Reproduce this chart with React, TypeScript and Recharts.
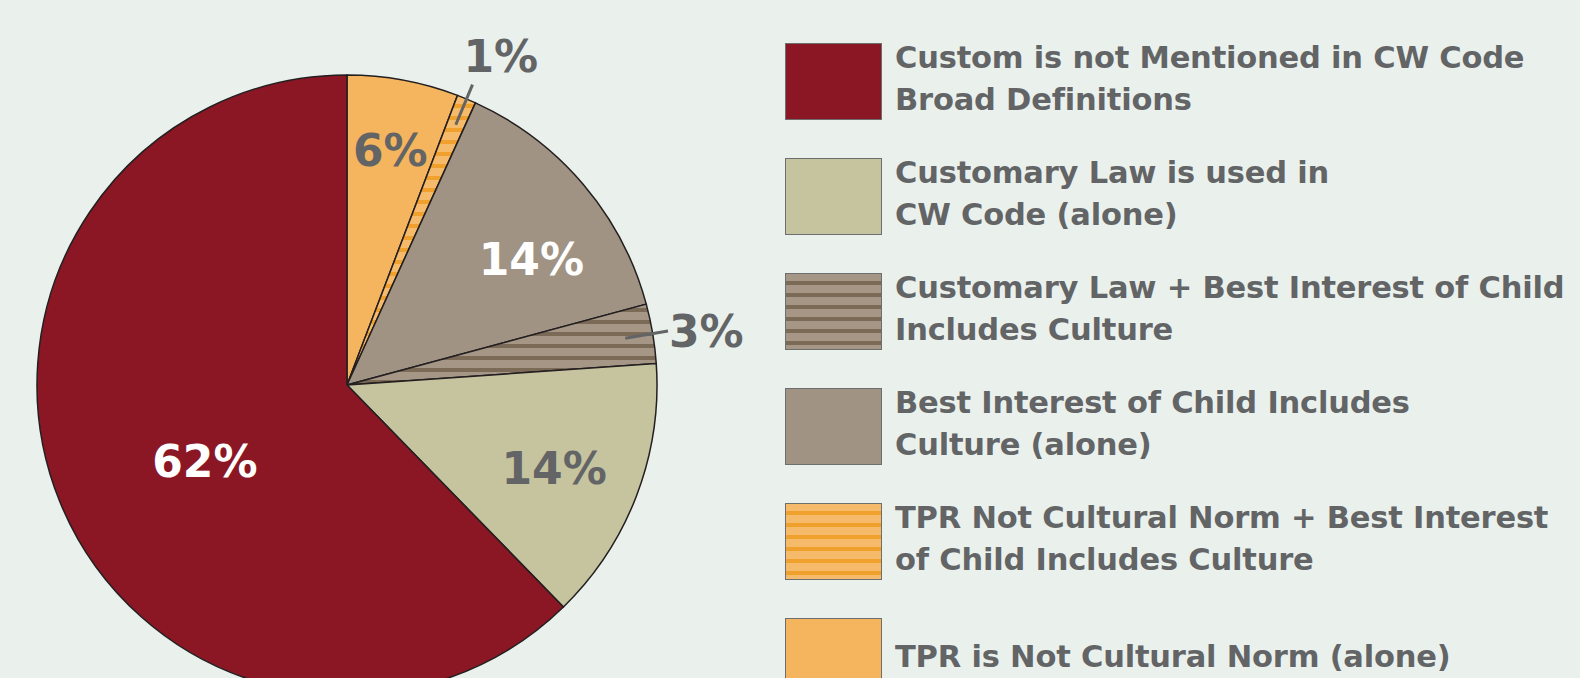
import { PieChart, Pie, Cell } from "recharts"

// slices, clockwise from 12 o'clock
const categories = [
  "TPR is Not Cultural Norm (alone)",
  "TPR Not Cultural Norm + Best Interest of Child Includes Culture",
  "Best Interest of Child Includes Culture (alone)",
  "Customary Law + Best Interest of Child Includes Culture",
  "Customary Law is used in CW Code (alone)",
  "Custom is not Mentioned in CW Code Broad Definitions",
]
const values = [5.8, 1.0, 14.0, 3.1, 13.8, 62.3]
const legendLines = [
  ["TPR is Not Cultural Norm (alone)"],
  ["TPR Not Cultural Norm + Best Interest", "of Child Includes Culture"],
  ["Best Interest of Child Includes", "Culture (alone)"],
  ["Customary Law + Best Interest of Child", "Includes Culture"],
  ["Customary Law is used in", "CW Code (alone)"],
  ["Custom is not Mentioned in CW Code", "Broad Definitions"],
]

const fills = ["#f5b55f", "url(#stripeOrange)", "#a09383", "url(#stripeTaupe)", "#c6c39f", "#8b1724"]
const labelColor = ["#636466", "#636466", "#ffffff", "#636466", "#636466", "#ffffff"]
const labelRadius = [0.77, 1.17, 0.72, 1.17, 0.72, 0.52]
const labelShift = [0, 0, -6, 0, -1, 6] // degrees

const FONT = "'DejaVu Sans', sans-serif"
const GRAY = "#636466"
const RADIAN = Math.PI / 180

const data = categories.map((name, i) => ({ name, value: values[i] }))

const renderLabel = (p: any) => {
  const { cx, cy, midAngle, outerRadius, index, value } = p
  const a = (midAngle + labelShift[index]) * RADIAN
  const cos = Math.cos(-a)
  const sin = Math.sin(-a)
  const text = `${Math.round(value)}%`
  if (labelRadius[index] > 1) {
    const x1 = cx + outerRadius * 0.91 * cos
    const y1 = cy + outerRadius * 0.91 * sin
    const x2 = cx + outerRadius * 1.05 * cos
    const y2 = cy + outerRadius * 1.05 * sin
    const upward = -sin > 0.8
    return (
      <g key={`l${index}`}>
        <line x1={x1} y1={y1} x2={x2} y2={y2} stroke={GRAY} strokeWidth={3} />
        <text
          x={upward ? x2 - 9 : x2 + 1}
          y={upward ? y2 - 28 : y2}
          fill={GRAY}
          fontFamily={FONT}
          fontWeight="bold"
          fontSize={44}
          textAnchor="start"
          dominantBaseline="central"
        >
          {text}
        </text>
      </g>
    )
  }
  const r = outerRadius * labelRadius[index]
  return (
    <text
      key={`l${index}`}
      x={cx + r * cos}
      y={cy + r * sin}
      fill={labelColor[index]}
      fontFamily={FONT}
      fontWeight="bold"
      fontSize={44}
      textAnchor="middle"
      dominantBaseline="central"
    >
      {text}
    </text>
  )
}

const Swatch = ({ i }: { i: number }) => (
  <svg width={97} height={77} style={{ display: "block", flex: "none" }}>
    <defs>
      <pattern id={`lg${i}`} patternUnits="userSpaceOnUse" width={12} height={12} y={1}>
        <rect width={12} height={12} fill={i === 1 ? "#f6bb6a" : "#a59686"} />
        <rect y={7} width={12} height={4} fill={i === 1 ? "#f0a02c" : "#7b6a55"} />
      </pattern>
    </defs>
    <rect
      x={0.5}
      y={0.5}
      width={96}
      height={76}
      fill={fills[i].startsWith("url") ? `url(#lg${i})` : fills[i]}
      stroke="#6d6e70"
      strokeWidth={1}
    />
  </svg>
)

export default function App() {
  const order = [5, 4, 3, 2, 1, 0]
  return (
    <div
      style={{
        position: "fixed",
        left: 0,
        top: 0,
        width: 1580,
        height: 678,
        background: "#eaf1ed",
        overflow: "hidden",
        fontFamily: FONT,
      }}
    >
      <PieChart width={1580} height={678} margin={{ top: 0, right: 0, bottom: 0, left: 0 }}>
        <defs>
          <pattern id="stripeOrange" patternUnits="userSpaceOnUse" width={12} height={12}>
            <rect width={12} height={12} fill="#f6bb6a" />
            <rect y={8} width={12} height={4} fill="#f0a02c" />
          </pattern>
          <pattern id="stripeTaupe" patternUnits="userSpaceOnUse" width={12} height={12}>
            <rect width={12} height={12} fill="#a59686" />
            <rect y={8} width={12} height={4} fill="#7b6a55" />
          </pattern>
        </defs>
        <Pie
          data={data}
          dataKey="value"
          nameKey="name"
          cx={347}
          cy={385}
          outerRadius={310}
          startAngle={90}
          endAngle={-270}
          stroke="#231f20"
          strokeWidth={1.5}
          label={renderLabel}
          labelLine={false}
          isAnimationActive={false}
        >
          {data.map((d, i) => (
            <Cell key={d.name} fill={fills[i]} />
          ))}
        </Pie>
      </PieChart>
      <div style={{ position: "absolute", left: 785, top: 43 }}>
        {order.map((i, k) => (
          <div
            key={categories[i]}
            style={{ display: "flex", alignItems: "center", height: 77, marginBottom: k < 5 ? 38 : 0 }}
          >
            <Swatch i={i} />
            <div
              style={{
                marginLeft: 13,
                color: GRAY,
                fontWeight: "bold",
                fontSize: 30.5,
                letterSpacing: -0.2,
                lineHeight: "42px",
                whiteSpace: "nowrap",
                transform: legendLines[i].length > 1 ? "translateY(-3px)" : undefined,
              }}
            >
              {legendLines[i].map((t) => (
                <div key={t}>{t}</div>
              ))}
            </div>
          </div>
        ))}
      </div>
    </div>
  )
}
